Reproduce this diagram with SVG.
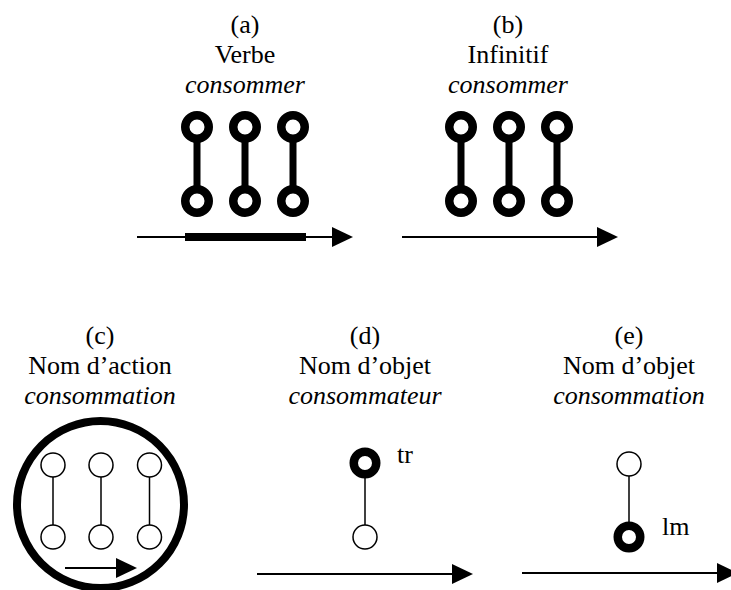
<svg xmlns="http://www.w3.org/2000/svg" width="731" height="590" viewBox="0 0 731 590">
<style>
  text { font-family: Liberation Serif, Times New Roman, Times, DejaVu Serif, serif; font-size: 26px; fill: #000; text-anchor: middle; }
  .it { font-style: italic; }
  .lbl { text-anchor: start; }
  .thick { fill: #fff; stroke: #000; stroke-width: 8.5; }
  .thin { fill: #fff; stroke: #000; stroke-width: 1.5; }
  .link-thick { stroke: #000; stroke-width: 7; }
  .link-thin { stroke: #000; stroke-width: 1.5; }
  .time { stroke: #000; stroke-width: 2; fill: none; marker-end: url(#ah); }
  .ring { fill: none; stroke: #000; stroke-width: 8; }
</style>
<defs>
  <marker id="ah" markerUnits="userSpaceOnUse" viewBox="0 0 21 20" refX="11" refY="10" markerWidth="21" markerHeight="20" orient="auto">
    <polygon points="0,0 21,10 0,20" fill="#000"/>
  </marker>
</defs>
<rect width="731" height="590" fill="#fff"/>

<g id="connectors">
  <line class="link-thick" x1="197" y1="127" x2="197" y2="201"/>
  <line class="link-thick" x1="245" y1="127" x2="245" y2="201"/>
  <line class="link-thick" x1="293" y1="127" x2="293" y2="201"/>
  <line class="link-thick" x1="461" y1="127" x2="461" y2="201"/>
  <line class="link-thick" x1="509" y1="127" x2="509" y2="201"/>
  <line class="link-thick" x1="557" y1="127" x2="557" y2="201"/>
  <line class="link-thin" x1="53" y1="465" x2="53" y2="537"/>
  <line class="link-thin" x1="101" y1="465" x2="101" y2="537"/>
  <line class="link-thin" x1="149.5" y1="465" x2="149.5" y2="537"/>
  <line class="link-thin" x1="365" y1="463" x2="365" y2="537"/>
  <line class="link-thin" x1="629" y1="464" x2="629" y2="537"/>
  <line class="time" x1="137" y1="237" x2="343" y2="237"/>
  <line class="time" x1="402" y1="237" x2="608" y2="237"/>
  <line class="time" x1="65" y1="568" x2="127" y2="568"/>
  <line class="time" x1="257" y1="574" x2="463" y2="574"/>
  <line class="time" x1="522" y1="573" x2="728" y2="573"/>
  <line stroke="#000" stroke-width="8" x1="185" y1="237" x2="306" y2="237"/>
</g>

<g id="panel-a">
  <text x="245" y="33">(a)</text>
  <text x="245" y="63">Verbe</text>
  <text x="245" y="93" class="it">consommer</text>
  <circle class="thick" cx="197" cy="127" r="11.75"/>
  <circle class="thick" cx="245" cy="127" r="11.75"/>
  <circle class="thick" cx="293" cy="127" r="11.75"/>
  <circle class="thick" cx="197" cy="201" r="11.75"/>
  <circle class="thick" cx="245" cy="201" r="11.75"/>
  <circle class="thick" cx="293" cy="201" r="11.75"/>
</g>

<g id="panel-b">
  <text x="508" y="33">(b)</text>
  <text x="508" y="63">Infinitif</text>
  <text x="508" y="93" class="it">consommer</text>
  <circle class="thick" cx="461" cy="127" r="11.75"/>
  <circle class="thick" cx="509" cy="127" r="11.75"/>
  <circle class="thick" cx="557" cy="127" r="11.75"/>
  <circle class="thick" cx="461" cy="201" r="11.75"/>
  <circle class="thick" cx="509" cy="201" r="11.75"/>
  <circle class="thick" cx="557" cy="201" r="11.75"/>
</g>

<g id="panel-c">
  <text x="100" y="344">(c)</text>
  <text x="100" y="374">Nom d’action</text>
  <text x="100" y="404" class="it">consommation</text>
  <circle class="ring" cx="100.5" cy="504.5" r="83.5"/>
  <circle class="thin" cx="53" cy="465" r="12"/>
  <circle class="thin" cx="101" cy="465" r="12"/>
  <circle class="thin" cx="149.5" cy="465" r="12"/>
  <circle class="thin" cx="53" cy="537" r="12"/>
  <circle class="thin" cx="101" cy="537" r="12"/>
  <circle class="thin" cx="149.5" cy="537" r="12"/>
</g>

<g id="panel-d">
  <text x="365" y="344">(d)</text>
  <text x="365" y="374">Nom d’objet</text>
  <text x="365" y="404" class="it">consommateur</text>
  <circle class="thick" cx="365" cy="463" r="11.25"/>
  <circle class="thin" cx="365" cy="537" r="12"/>
  <text x="397" y="463" class="lbl">tr</text>
</g>

<g id="panel-e">
  <text x="629" y="344">(e)</text>
  <text x="629" y="374">Nom d’objet</text>
  <text x="629" y="404" class="it">consommation</text>
  <circle class="thin" cx="629" cy="464" r="12"/>
  <circle class="thick" cx="629" cy="537" r="11.25"/>
  <text x="662" y="535" class="lbl">lm</text>
</g>
</svg>
